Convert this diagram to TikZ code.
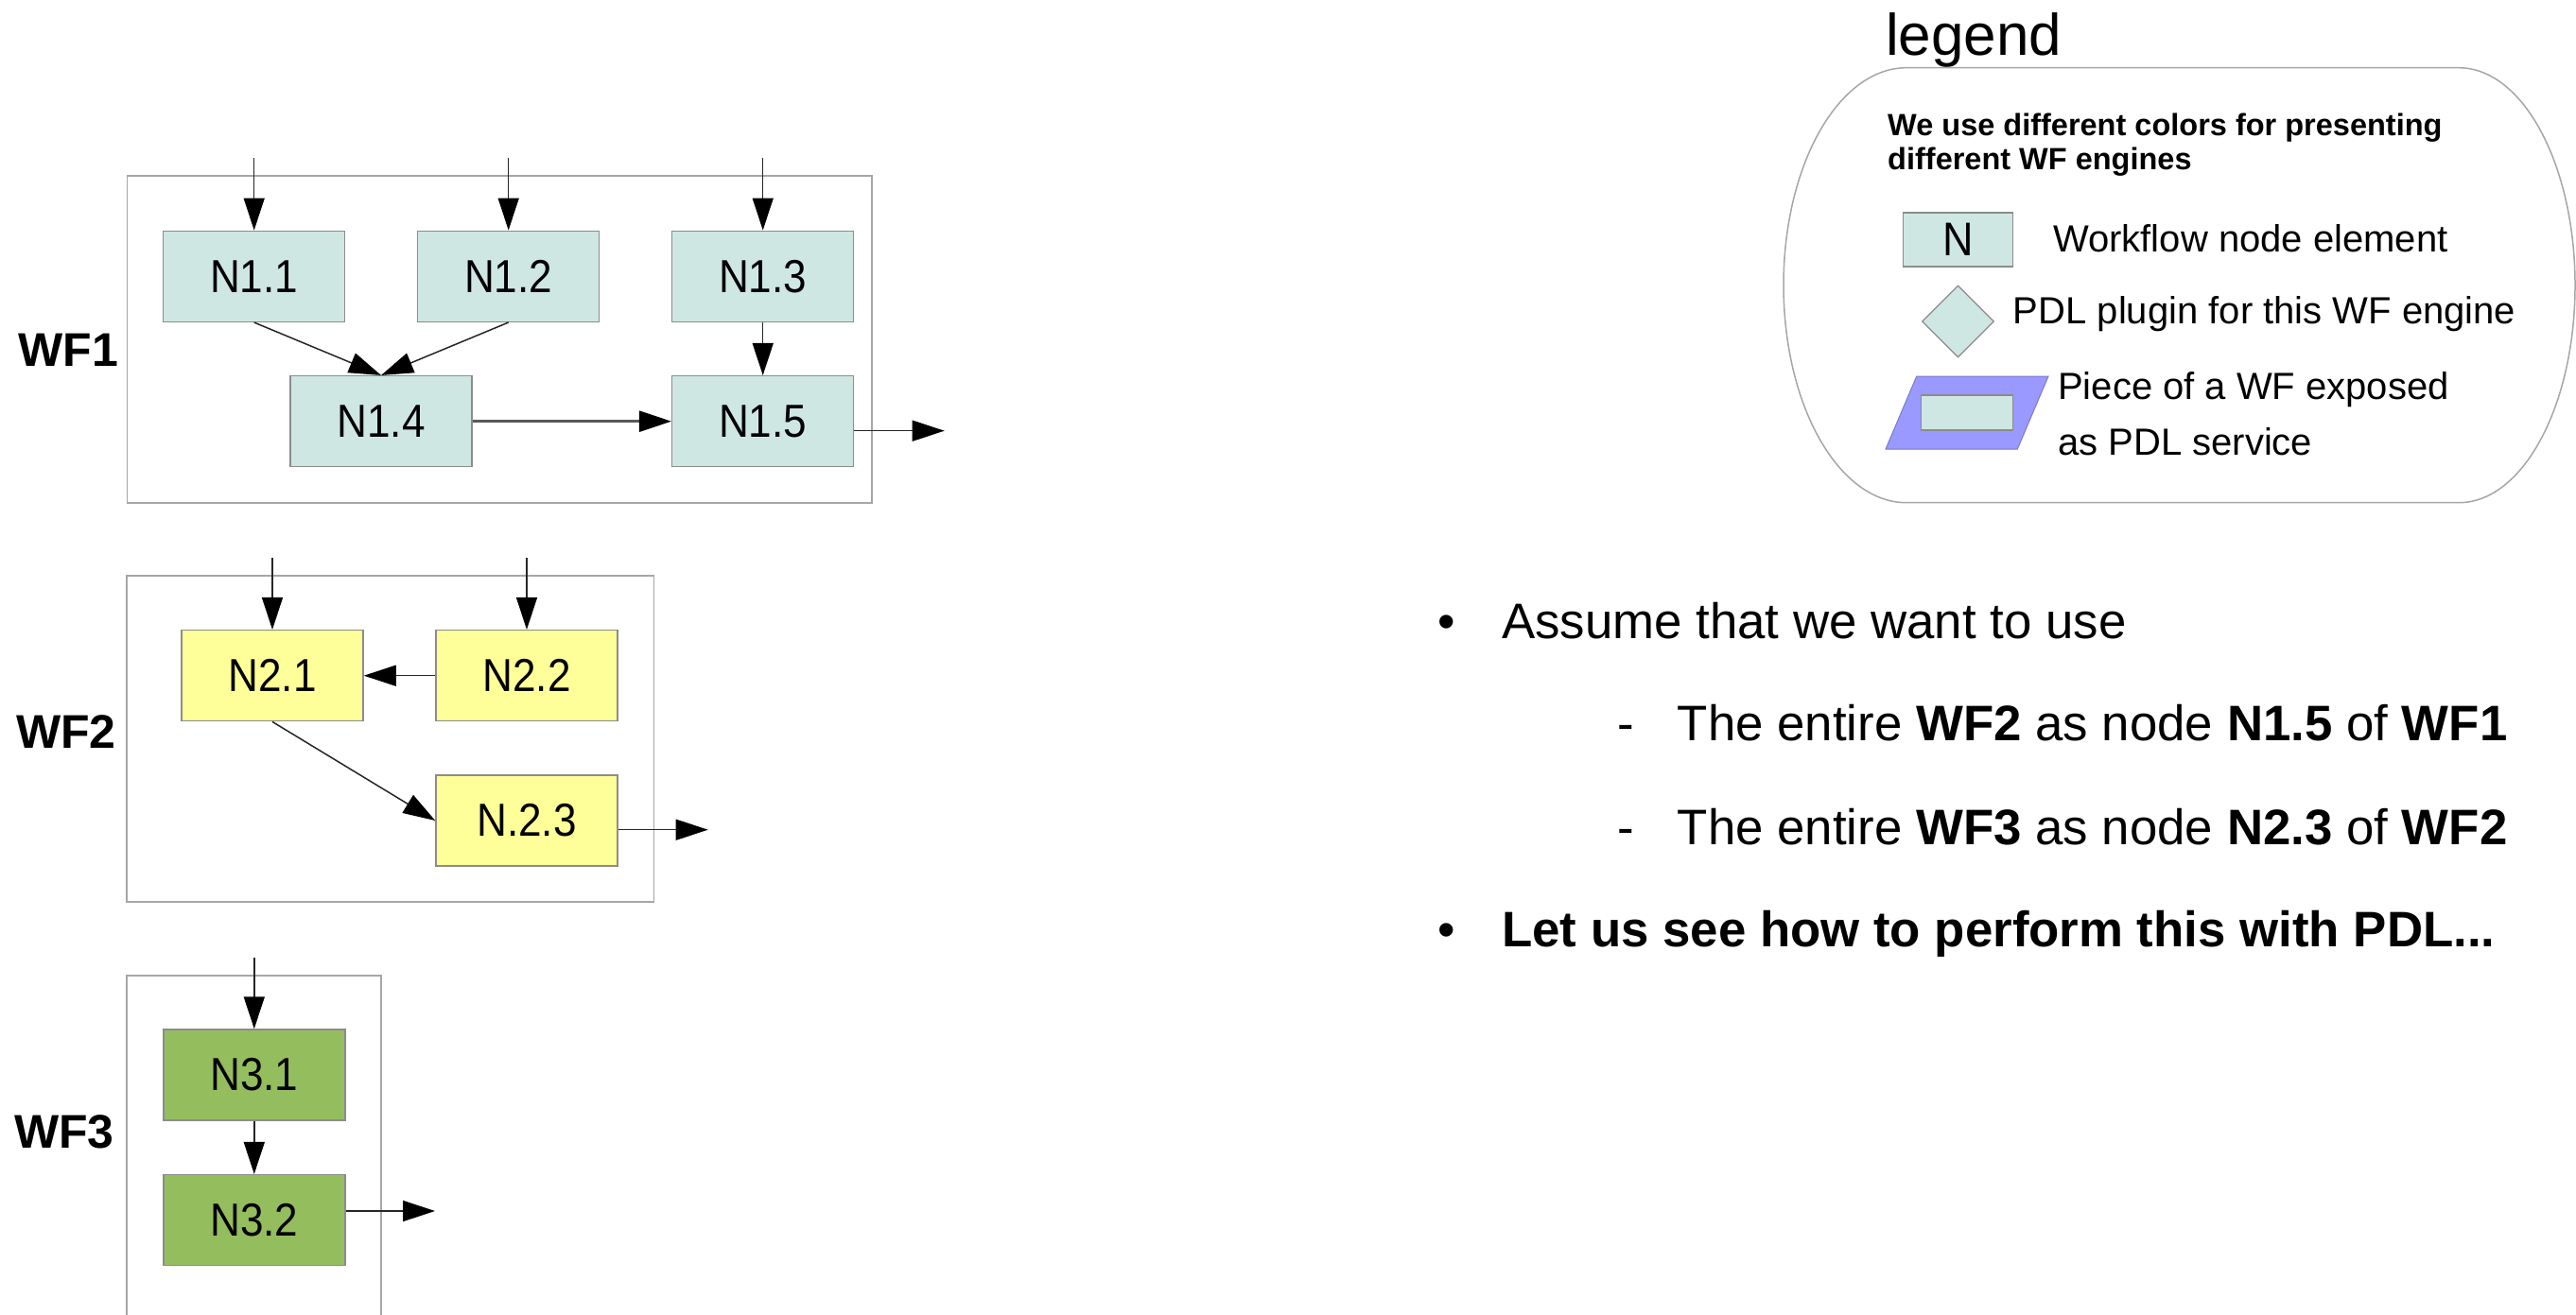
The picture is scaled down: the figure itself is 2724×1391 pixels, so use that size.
\documentclass[tikz,border=0pt]{standalone}
\usepackage{fontspec}
\setmainfont{Liberation Sans}
\newfontfamily\wfnodefont[FakeStretch=0.9]{Liberation Sans}
\usetikzlibrary{arrows.meta,shapes.geometric}
\definecolor{nodecyan}{HTML}{CFE7E3}
\definecolor{nodeyellow}{HTML}{FFFF99}
\definecolor{nodegreen}{HTML}{94BD5E}
\definecolor{paravio}{HTML}{9999FF}
\definecolor{bordergray}{HTML}{8C8C8C}
\definecolor{framegray}{HTML}{A6A6A6}
\tikzset{
  wfbox/.style={draw=bordergray, line width=1.5pt, minimum width=192pt, minimum height=96pt, inner sep=0pt, font=\wfnodefont\fontsize{49}{58}\selectfont},
  cyanbox/.style={wfbox, fill=nodecyan},
  yellowbox/.style={wfbox, fill=nodeyellow},
  greenbox/.style={wfbox, fill=nodegreen},
  wfframe/.style={draw=framegray, line width=1.8pt, inner sep=0pt},
  arr/.style={-{Triangle[length=34pt,width=22pt,color=black]}, line width=1.5pt, draw=black!85},
  wflabel/.style={font=\fontsize{50}{60}\selectfont\bfseries, anchor=base west, inner sep=0pt},
  legtext/.style={font=\fontsize{40}{48}\selectfont, anchor=base west, inner sep=0pt},
  legbold/.style={font=\fontsize{32.5}{36}\selectfont\bfseries, anchor=base west, inner sep=0pt},
  bultext/.style={font=\fontsize{52.8}{63}\selectfont, anchor=base west, inner sep=0pt},
  bulmark/.style={font=\fontsize{52.8}{63}\selectfont, anchor=base, inner sep=0pt}
}
\begin{document}
\begin{tikzpicture}[x=1pt,y=-1pt]
\useasboundingbox (0,0) rectangle (2724,1391);

% ---------- WF1 ----------
\node[wfframe, minimum width=787.5pt, minimum height=345.7pt] (wf1) at (528.25,358.85) {};
\node[wflabel] (l1) at (19.5,387.3) {WF1};
\node[cyanbox] (n11) at (268.7,292.3) {N1.1};
\node[cyanbox] (n12) at (537.7,292.3) {N1.2};
\node[cyanbox] (n13) at (806.7,292.3) {N1.3};
\node[cyanbox] (n14) at (403,445.7) {N1.4};
\node[cyanbox] (n15) at (806.7,445.7) {N1.5};
\coordinate (i11) at (268.7,167.3);
\coordinate (i12) at (537.7,167.3);
\coordinate (i13) at (806.7,167.3);
\coordinate (o1) at (998.7,455.7);
\draw[arr] (i11) -- (n11.north);
\draw[arr] (i12) -- (n12.north);
\draw[arr] (i13) -- (n13.north);
\draw[arr] (n11.south) -- (n14.north);
\draw[arr] (n12.south) -- (n14.north);
\draw[arr] (n13.south) -- (n15.north);
\draw[arr, line width=2.5pt, draw=black!65] (n14.east) -- (n15.west);
\draw[arr] (n15.east |- o1) -- (o1);

% ---------- WF2 ----------
\node[wfframe, minimum width=557.2pt, minimum height=345pt] (wf2) at (412.9,781.8) {};
\node[wflabel] (l2) at (17,791.7) {WF2};
\node[yellowbox] (n21) at (288,714.7) {N2.1};
\node[yellowbox] (n22) at (557,714.7) {N2.2};
\node[yellowbox] (n23) at (557,868) {N.2.3};
\coordinate (i21) at (288,590);
\coordinate (i22) at (557,590);
\coordinate (o2) at (748.7,877.7);
\draw[arr] (i21) -- (n21.north);
\draw[arr] (i22) -- (n22.north);
\draw[arr] (n22.west) -- (n21.east);
\draw[arr] (n21.south) -- (n23.west);
\draw[arr] (n23.east |- o2) -- (o2);

% ---------- WF3 ----------
\coordinate (f3a) at (134.3,1400);
\coordinate (f3b) at (403.3,1031.7);
\coordinate (f3c) at (403.3,1400);
\draw[draw=framegray, line width=1.8pt] (f3a) |- (f3b) -- (f3c);
\node[wflabel] (l3) at (15,1214) {WF3};
\node[greenbox] (n31) at (268.8,1137) {N3.1};
\node[greenbox] (n32) at (268.8,1290.7) {N3.2};
\coordinate (i31) at (268.8,1012.7);
\coordinate (o3) at (460,1281);
\draw[arr] (i31) -- (n31.north);
\draw[arr] (n31.south) -- (n32.north);
\draw[arr] (n32.east |- o3) -- (o3);

% ---------- Legend ----------
\node[font=\fontsize{62}{74}\selectfont, anchor=base west, inner sep=0pt] (legtitle) at (1994,58.4) {legend};
\draw[draw=framegray, line width=1.5pt] (2016,71.7) -- (2600,71.7)
  arc[start angle=-90, end angle=90, x radius=123, y radius=230]
  -- (2016,531.7)
  arc[start angle=90, end angle=270, x radius=130, y radius=230] -- cycle;
\node[legbold] (lb1) at (1996,144) {We use different colors for presenting};
\node[legbold] (lb2) at (1996,180) {different WF engines};
\node[draw=bordergray, line width=1.5pt, fill=nodecyan, minimum width=116pt, minimum height=57pt, inner sep=0pt, font=\wfnodefont\fontsize{50}{60}\selectfont] (legn) at (2070.7,253.6) {N};
\node[legtext] (lt1) at (2171,266.3) {Workflow node element};
\node[diamond, draw=bordergray, line width=1.2pt, fill=nodecyan, minimum width=76pt, minimum height=76pt, inner sep=0pt] (legd) at (2070.5,340) {};
\node[legtext] (lt2) at (2128.7,342) {PDL plugin for this WF engine};
\coordinate (pa) at (1994,475);
\coordinate (pb) at (2026.7,398);
\coordinate (pc) at (2166,398);
\coordinate (pd) at (2133.3,475);
\draw[draw=paravio!80!black, line width=1pt, fill=paravio] (pa) -- (pb) -- (pc) -- (pd) -- cycle;
\node[draw=bordergray, line width=1.5pt, fill=nodecyan, minimum width=96.6pt, minimum height=37.3pt, inner sep=0pt] (legr) at (2080,436.4) {};
\node[legtext] (lt3) at (2176,422.7) {Piece of a WF exposed};
\node[legtext] (lt4) at (2176,481) {as PDL service};

% ---------- Bullets ----------
\node[bulmark] (bm1) at (1530,675.7) {•};
\node[bultext] (bt1) at (1588,675.7) {Assume that we want to use};
\node[bultext] (dm1) at (1710,783.3) {-};
\node[bultext] (dt1) at (1773.7,783.3) {The entire \textbf{WF2} as node \textbf{N1.5} of \textbf{WF1}};
\node[bultext] (dm2) at (1710,893.3) {-};
\node[bultext] (dt2) at (1773.7,893.3) {The entire \textbf{WF3} as node \textbf{N2.3} of \textbf{WF2}};
\node[bulmark] (bm2) at (1530,1001.7) {•};
\node[bultext] (bt2) at (1588,1001.7) {\textbf{Let us see how to perform this with PDL...}};
\end{tikzpicture}
\end{document}
